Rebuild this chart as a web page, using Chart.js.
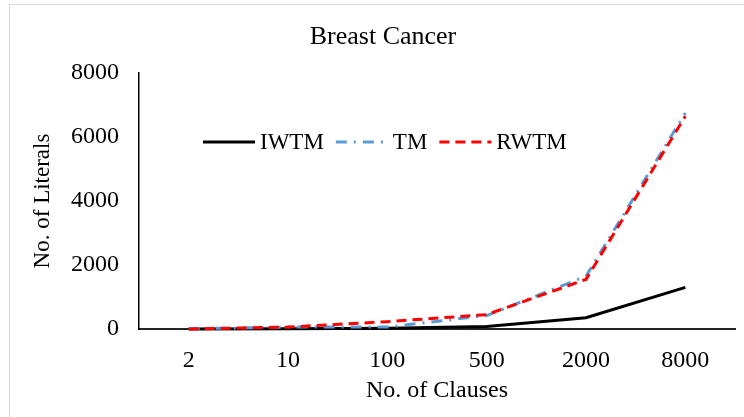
<!DOCTYPE html>
<html>
<head>
<meta charset="utf-8">
<script src="https://cdn.jsdelivr.net/npm/chart.js@4.4.0/dist/chart.umd.min.js"></script>
<style>
  html, body { margin: 0; padding: 0; background: #fff; }
  #wrap { position: relative; width: 744px; height: 417px; overflow: hidden; }
  #frame { position: absolute; left: 9px; top: 4px; width: 800px; height: 500px; border: 1px solid #d9d9d9; box-sizing: border-box; pointer-events: none; }
  canvas { position: absolute; left: 0; top: 0; }
</style>
</head>
<body>
<div id="wrap">
  <canvas id="c" width="744" height="417"></canvas>
  <div id="frame"></div>
</div>
<script>
const chartTitle = 'Breast Cancer';
const xAxisTitle = 'No. of Clauses';
const yAxisTitle = 'No. of Literals';
const categories = ['2', '10', '100', '500', '2000', '8000'];
const iwtmValues = [0, 5, 20, 80, 350, 1300];
const tmValues = [10, 60, 60, 420, 1650, 6750];
const rwtmValues = [0, 60, 230, 450, 1550, 6650];
const yTicks = [0, 2000, 4000, 6000, 8000];

const FONT = "'Liberation Serif', 'Times New Roman', serif";

const overlayPlugin = {
  id: 'overlay',
  afterDraw(chart) {
    const ctx = chart.ctx;
    ctx.save();
    ctx.fillStyle = '#000';
    ctx.font = '26px ' + FONT;
    ctx.textAlign = 'center';
    ctx.textBaseline = 'middle';
    ctx.fillText(chartTitle, 383, 37);
    ctx.font = '23px ' + FONT;
    ctx.textAlign = 'left';
    let x = 203;
    const y = 142;
    [0, 1, 2].forEach(i => {
      const ds = chart.data.datasets[i];
      ctx.beginPath();
      ctx.strokeStyle = ds.borderColor;
      ctx.lineWidth = ds.borderWidth;
      ctx.setLineDash(ds.borderDash || []);
      ctx.moveTo(x, y);
      ctx.lineTo(x + 52, y);
      ctx.stroke();
      ctx.setLineDash([]);
      x += 57;
      ctx.fillStyle = '#000';
      ctx.fillText(ds.label, x, y + 1);
      x += ctx.measureText(ds.label).width + 12;
    });
    ctx.restore();
  }
};

new Chart(document.getElementById('c'), {
  type: 'line',
  data: {
    labels: categories,
    datasets: [
      { label: 'IWTM', data: iwtmValues, borderColor: '#000000', backgroundColor: '#000000',
        borderWidth: 3, borderDash: [], pointRadius: 0, tension: 0, order: 2, clip: 6 },
      { label: 'TM', data: tmValues, borderColor: '#5B9BD5', backgroundColor: '#5B9BD5',
        borderWidth: 3, borderDash: [11, 7, 2, 7], pointRadius: 0, tension: 0, order: 1, clip: 6 },
      { label: 'RWTM', data: rwtmValues, borderColor: '#FF0000', backgroundColor: '#FF0000',
        borderWidth: 3, borderDash: [10, 6], pointRadius: 0, tension: 0, order: 0, clip: 6 }
    ]
  },
  options: {
    responsive: false,
    animation: false,
    devicePixelRatio: 1,
    layout: { padding: { left: 0, top: 73, right: 9, bottom: 0 } },
    plugins: {
      legend: { display: false },
      title: { display: false },
      tooltip: { enabled: false }
    },
    scales: {
      x: {
        type: 'category',
        offset: true,
        grid: { display: false, drawTicks: false },
        border: { display: true, color: '#262626', width: 2 },
        ticks: { color: '#000', font: { family: FONT, size: 24 }, padding: 17, maxRotation: 0 },
        title: { display: true, text: xAxisTitle, color: '#000', font: { family: FONT, size: 24 }, padding: { top: 0, bottom: 12 } },
        afterFit(scale) { scale.height = 88; }
      },
      y: {
        min: 0, max: 8000,
        afterBuildTicks(scale) { scale.ticks = yTicks.map(v => ({ value: v })); },
        grid: { display: false, drawTicks: false },
        border: { display: true, color: '#000', width: 1.5 },
        ticks: { color: '#000', font: { family: FONT, size: 24 }, padding: 20, callback: v => String(v) },
        title: { display: true, text: yAxisTitle, color: '#000', font: { family: FONT, size: 23 }, padding: { top: 29, bottom: 0 } },
        afterFit(scale) { scale.width = 139; }
      }
    }
  },
  plugins: [overlayPlugin]
});
</script>
</body>
</html>
